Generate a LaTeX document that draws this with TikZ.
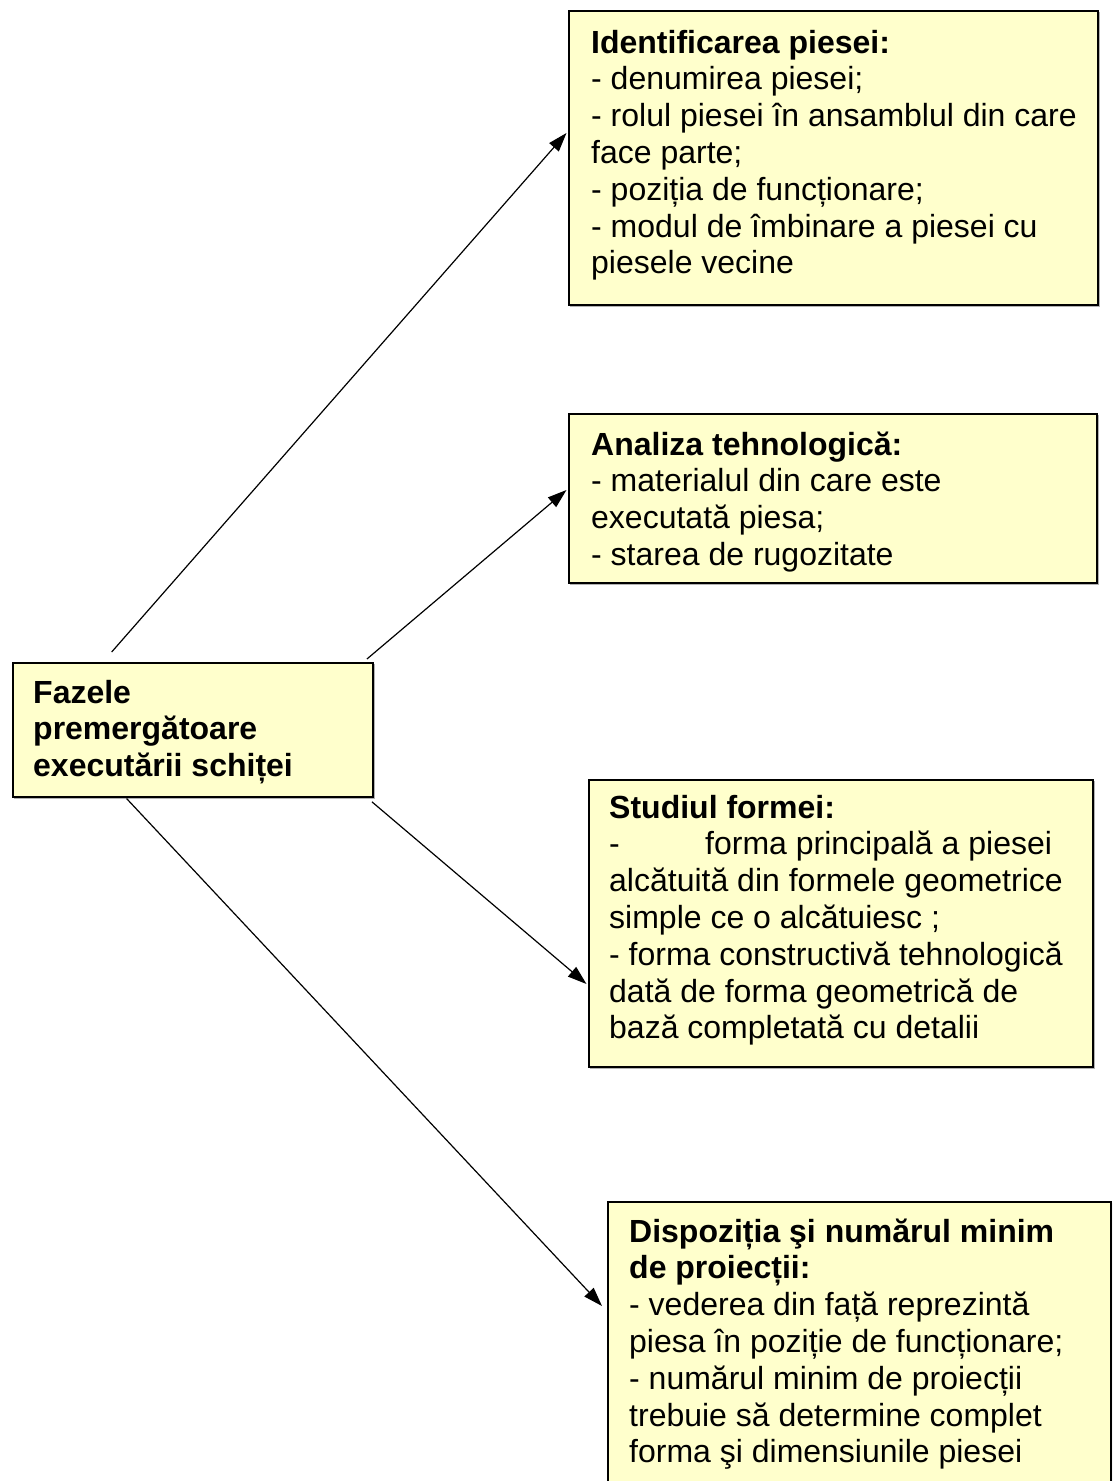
\documentclass[tikz,border=0pt]{standalone}
\usepackage{fontspec}
\setmainfont{Liberation Sans}
\usetikzlibrary{arrows.meta}
\definecolor{boxfill}{HTML}{FFFFCC}
\newcommand{\boxtext}[1]{\parbox[t]{520pt}{\fontsize{32pt}{36.8pt}\selectfont\raggedright #1}}
\begin{document}
\begin{tikzpicture}[x=1pt,y=-1pt,
  box/.style={draw=black, line width=1.8pt, fill=boxfill, inner sep=0pt, anchor=north west,
    preaction={draw=gray!60, line width=1.2pt, transform canvas={shift={(1.6pt,-1.6pt)}}}},
  txt/.style={anchor=base west, inner sep=0pt},
  conn/.style={line width=1.2pt, -{Triangle[length=19pt,width=12.5pt]}}]
\useasboundingbox (0,0) rectangle (1112,1481);
\clip (0,0) rectangle (1112,1481);
% boxes
\node[box, minimum width=529pt, minimum height=294pt] (b1) at (568,10) {};
\node[box, minimum width=528pt, minimum height=169pt] (b2) at (568,413) {};
\node[box, minimum width=504pt, minimum height=287pt] (b3) at (588,779) {};
\node[box, minimum width=503pt, minimum height=320pt] (b4) at (607,1201) {};
\node[box, minimum width=360pt, minimum height=134pt] (fz) at (12,662) {};
% texts
\node[txt] (t1) at (591,53) {\boxtext{\textbf{Identificarea piesei:}\\
- denumirea piesei;\\
- rolul piesei în ansamblul din care\\
face parte;\\
- poziția de funcționare;\\
- modul de îmbinare a piesei cu\\
piesele vecine}};
\node[txt] (t2) at (591,455) {\boxtext{\textbf{Analiza tehnologică:}\\
- materialul din care este\\
executată piesa;\\
- starea de rugozitate}};
\node[txt] (t3) at (609,818) {\boxtext{\textbf{Studiul formei:}\\
\makebox[96pt][l]{-}forma principală a piesei\\
alcătuită din formele geometrice\\
simple ce o alcătuiesc ;\\
- forma constructivă tehnologică\\
dată de forma geometrică de\\
bază completată cu detalii}};
\node[txt] (t4) at (629,1242) {\boxtext{\textbf{Dispoziția şi numărul minim}\\
\textbf{de proiecții:}\\
- vederea din față reprezintă\\
piesa în poziție de funcționare;\\
- numărul minim de proiecții\\
trebuie să determine complet\\
forma şi dimensiunile piesei}};
\node[txt] (tf) at (33,703) {\boxtext{\textbf{Fazele}\\
\textbf{premergătoare}\\
\textbf{executării schiței}}};
% connectors
\draw[conn, shorten <=13.3pt] ([xshift=-90pt]fz.north) -- ([xshift=-1.5pt,yshift=-123pt]b1.north west);
\draw[conn, shorten <=4.6pt] ([xshift=170.5pt]fz.north) -- ([xshift=-1.5pt,yshift=-77pt]b2.north west);
\draw[conn, shorten <=6.2pt] ([xshift=174.3pt]fz.south) -- ([xshift=-1.5pt,yshift=-205pt]b3.north west);
\draw[conn, shorten <=1pt] ([xshift=-67pt]fz.south) -- ([xshift=-5pt,yshift=-105pt]b4.north west);
\end{tikzpicture}
\end{document}
